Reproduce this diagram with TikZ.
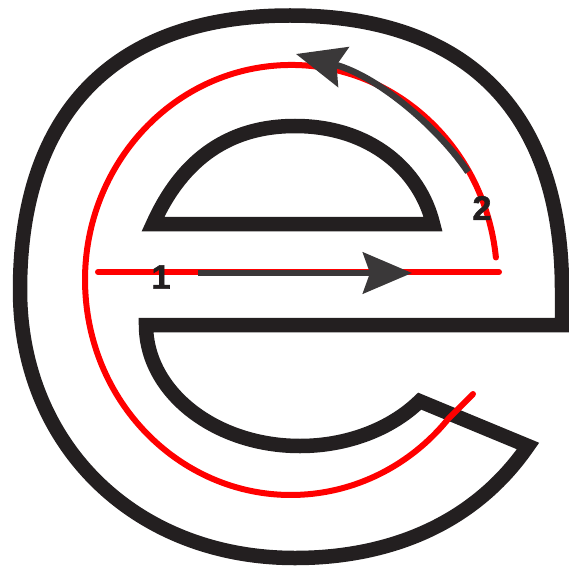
\documentclass[tikz,border=0pt]{standalone}
\usepackage{fontspec}
\setmainfont{Liberation Sans}
\newfontfamily\numfont{Liberation Sans}[FakeBold=1.6]
\usetikzlibrary{arrows.meta}

\definecolor{inkblack}{HTML}{231F20}
\definecolor{arrowgray}{HTML}{3A3839}

\tikzset{
  outline/.style={draw=inkblack, line width=14.5pt, line join=miter, miter limit=10},
  redpath/.style={draw=red, line width=6pt, line cap=round},
  strokearrow/.style={draw=arrowgray, line width=6.5pt,
    -{Stealth[length=49pt, width=41pt, inset=7pt]}},
  stepnum/.style={text=inkblack, font=\numfont\bfseries\fontsize{34}{34}\selectfont, inner sep=0pt}
}

\begin{document}
\begin{tikzpicture}[x=1pt, y=-1pt]
    % --- 画布大小 (像素坐标, y 向下) ---
    \useasboundingbox (0,0) rectangle (569,572);
    \clip (0,0) rectangle (569,572);

    % --- 参数 ---
    \def\barY{325}      % 横杠的高度
    \def\rightX{562}    % 右侧竖边
    \def\midX{291}      % 红色笔画椭圆中心
    \def\midY{280}

    % --- 字母 e 的外轮廓 ---
    \draw[outline] (\rightX,\barY) -- (146,\barY)
        arc[start angle=180, end angle=39, x radius=154, y radius=121]
        -- (528,446)
        .. controls (470,530) and (380,558) .. (295,558)
        .. controls (135,558) and (20,445) .. (20,290)
        .. controls (20,112) and (115,15.5) .. (290,15.5)
        .. controls (467,15.5) and (\rightX,112) .. (\rightX,290)
        -- cycle;

    % --- 上方的半圆形内孔 ---
    \draw[outline] (153,224) .. controls (175,175) and (215,126) .. (295,126)
        .. controls (370,126) and (420,170) .. (433,224) -- cycle;

    % --- 红色笔画路径 ---
    \coordinate (redL) at (98,272);
    \coordinate (redR) at (499,272);
    \draw[redpath] (redL) -- (redR);
    \draw[redpath] (495.9,257.5)
        arc[start angle=-6, end angle=-320, x radius=206, y radius=215]
        -- (473,394);

    % --- 笔顺箭头 ---
    \coordinate (oneStart) at (198,273);
    \coordinate (oneEnd) at (412,273);
    \draw[strokearrow] (oneStart) -- (oneEnd);

    \coordinate (twoStart) at (468,172);
    \coordinate (twoEnd) at (296,54);
    \draw[strokearrow] (twoStart) .. controls (440,130) and (380,77) .. (twoEnd);

    % --- 笔顺编号 ---
    \node[stepnum] (one) at (161,277) {1};
    \node[stepnum] (two) at (482,208) {2};

\end{tikzpicture}
\end{document}
